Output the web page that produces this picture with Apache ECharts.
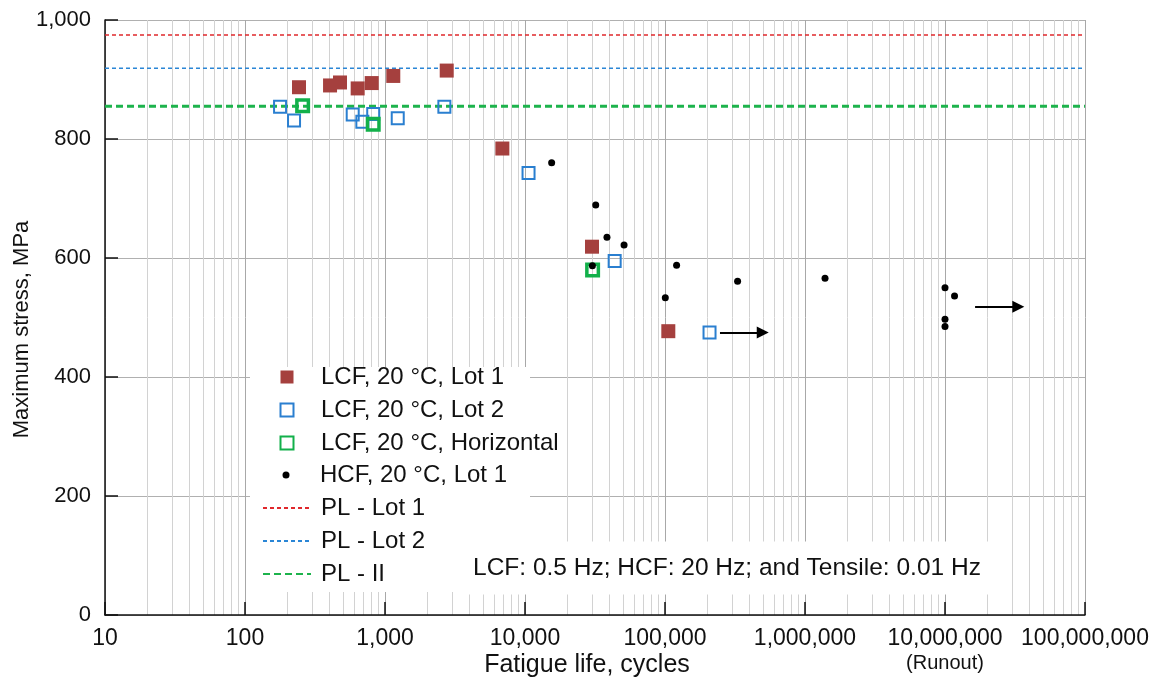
<!DOCTYPE html>
<html>
<head>
<meta charset="utf-8">
<script src="https://cdn.jsdelivr.net/npm/echarts@6/dist/echarts.min.js"></script>
<style>
html,body{margin:0;padding:0;background:#fff;}
#chart{width:1162px;height:685px;}
</style>
</head>
<body>
<div id="chart"></div>
<script>
// ---- data (cycles, MPa) ----
var lcfLot1 = [[243,887],[405,890],[477,895],[638,885],[804,894],[1146,906],[2760,915],[6890,784],[30100,619],[105600,477]];
var lcfLot2 = [[178,854],[224,831],[588,841],[689,829],[824,842],[1233,835],[2655,854],[10600,743],[43700,595],[208000,475]];
var lcfHoriz = [[258,856],[824,825],[30400,580]];
var hcfLot1 = [[15500,760],[32000,689],[38500,635],[51000,622],[30300,587],[121000,588],[100500,533],[330000,561],[1390000,566],[10000000,550],[11700000,536],[10000000,497],[10000000,485]];
var plLot1 = 975, plLot2 = 919, plII = 855;
// runout arrows: [startCycles, stress, endCycles]
var runoutArrows = [[247000,475,499000],[16400000,518,33400000]];
var xTicks = [10,100,1000,10000,100000,1000000,10000000,100000000];
var yTicks = [0,200,400,600,800,1000];
var names = ['LCF, 20 °C, Lot 1','LCF, 20 °C, Lot 2','LCF, 20 °C, Horizontal','HCF, 20 °C, Lot 1','PL - Lot 1','PL - Lot 2','PL - II'];
var noteText = 'LCF: 0.5 Hz; HCF: 20 Hz; and Tensile: 0.01 Hz';

var FONT = '"Liberation Sans", Arial, Helvetica, sans-serif';
var sq = 'path://M0,0L10,0L10,10L0,10Z';

// minor log grid lines (2..9 per decade)
var minorLines = [];
for (var d = xTicks[0]; d < xTicks[xTicks.length - 1]; d *= 10) {
  for (var k = 2; k <= 9; k++) minorLines.push({xAxis: d * k});
}
var arrowData = runoutArrows.map(function (a) {
  return [{coord: [a[0], a[1]]}, {coord: [a[2], a[1]]}];
});
function hLine(v) { return [[xTicks[0], v], [xTicks[xTicks.length - 1], v]]; }

var legendText = {fontSize: 24, color: '#111', fontFamily: FONT, lineHeight: 22, padding: [0, 0, 0, 5]};
var noSym = {color: 'rgba(0,0,0,0)', borderWidth: 0, opacity: 0};

var chart = echarts.init(document.getElementById('chart'), null, {renderer: 'canvas'});
var option = {
  animation: false,
  backgroundColor: '#fff',
  textStyle: {fontFamily: FONT},
  grid: {left: 105, right: 77, top: 20, bottom: 70, containLabel: false, outerBoundsMode: 'none'},
  xAxis: {
    type: 'log', logBase: 10, min: xTicks[0], max: xTicks[xTicks.length - 1],
    name: 'Fatigue life, cycles', nameLocation: 'middle', nameGap: 38, nameMoveOverlap: false,
    nameTextStyle: {fontSize: 25, color: '#111', fontFamily: FONT, padding: [0, 16, 0, 0]},
    axisLine: {show: true, lineStyle: {color: '#111', width: 1.5}},
    axisTick: {show: true, inside: true, length: 13, lineStyle: {color: '#111', width: 1.5}},
    axisLabel: {
      fontSize: 23, color: '#111', fontFamily: FONT, margin: 12,
      formatter: function (v) {
        var r = Math.round(v);
        var s = r.toLocaleString('en-US');
        if (r === 10000000) return s + '\n{r|(Runout)}';
        return s;
      },
      rich: {r: {fontSize: 20, color: '#111', fontFamily: FONT, lineHeight: 24, padding: [2, 0, 0, 0]}}
    },
    splitLine: {show: true, lineStyle: {color: '#a8a8a8', width: 1}},
    minorTick: {show: false}, minorSplitLine: {show: false}
  },
  yAxis: {
    type: 'value', min: yTicks[0], max: yTicks[yTicks.length - 1], interval: 200,
    name: 'Maximum stress, MPa', nameLocation: 'middle', nameGap: 72, nameRotate: 90, nameMoveOverlap: false,
    nameTextStyle: {fontSize: 22, color: '#111', fontFamily: FONT, padding: [0, 24, 0, 0]},
    axisLine: {show: true, lineStyle: {color: '#111', width: 1.5}},
    axisTick: {show: true, inside: true, length: 13, lineStyle: {color: '#111', width: 1.5}},
    axisLabel: {
      fontSize: 22, color: '#111', fontFamily: FONT, margin: 14,
      formatter: function (v) { return Math.round(v).toLocaleString('en-US'); }
    },
    splitLine: {show: true, lineStyle: {color: '#b0b0b0', width: 1}}
  },
  legend: [
    {
      data: names.slice(0, 3), orient: 'vertical', left: 279.5, top: 365, padding: 0,
      itemWidth: 48, itemHeight: 13, itemGap: 9, selectedMode: false, textStyle: legendText
    },
    {
      data: [names[3]], orient: 'vertical', left: 282.5, top: 463, padding: 0,
      itemWidth: 48, itemHeight: 7, selectedMode: false, textStyle: legendText
    },
    {
      data: names.slice(4).map(function (n) { return {name: n, itemStyle: noSym}; }),
      orient: 'vertical', left: 262, top: 496, padding: 0,
      itemWidth: 48, itemHeight: 13, itemGap: 9, selectedMode: false, textStyle: legendText
    }
  ],
  graphic: [
    {type: 'rect', z: 3, silent: true, shape: {x: 250, y: 367, width: 280, height: 225}, style: {fill: '#fff'}},
    {type: 'text', z: 5, silent: true, x: 469, y: 568,
      style: {text: noteText, fontSize: 24.5, fontFamily: FONT, fill: '#111', verticalAlign: 'middle',
        backgroundColor: '#fff', padding: [14, 8, 14, 4]}}
  ],
  series: [
    {
      name: '_minor', type: 'scatter', data: [], silent: true, z: 1,
      markLine: {silent: true, z: 0, symbol: ['none', 'none'], animation: false, label: {show: false},
        lineStyle: {color: '#d2d2d2', type: 'solid', width: 1}, emphasis: {disabled: true},
        data: minorLines}
    },
    {
      name: names[4], type: 'line', data: hLine(plLot1), symbol: 'none', z: 2, silent: true,
      lineStyle: {color: '#e0282c', width: 1.5, type: [4, 3]}, itemStyle: noSym
    },
    {
      name: names[5], type: 'line', data: hLine(plLot2), symbol: 'none', z: 2, silent: true,
      lineStyle: {color: '#2a86d6', width: 1.5, type: [4, 3]}, itemStyle: noSym
    },
    {
      name: names[6], type: 'line', data: hLine(plII), symbol: 'none', z: 2, silent: true,
      lineStyle: {color: '#1db34c', width: 3, type: [7, 4]}, itemStyle: noSym
    },
    {
      name: names[0], type: 'scatter', data: lcfLot1, symbol: sq, symbolSize: 14, symbolKeepAspect: true, z: 3,
      itemStyle: {color: '#a5403e', opacity: 1}
    },
    {
      name: names[1], type: 'scatter', data: lcfLot2, symbol: sq, symbolSize: 12, symbolKeepAspect: true, z: 3,
      itemStyle: {color: 'rgba(255,255,255,0)', borderColor: '#2a7fd0', borderWidth: 2, opacity: 1}
    },
    {
      name: names[2], type: 'scatter', data: lcfHoriz, symbol: sq, symbolSize: 11.5, symbolKeepAspect: true, z: 3,
      itemStyle: {color: 'rgba(255,255,255,0)', borderColor: '#12b04a', borderWidth: 3.5, opacity: 1}
    },
    {
      name: names[3], type: 'scatter', data: hcfLot1, symbol: 'circle', symbolSize: 7, z: 4,
      itemStyle: {color: '#000', opacity: 1},
      markLine: {silent: true, symbol: ['none', 'triangle'], symbolSize: 12, animation: false,
        label: {show: false}, emphasis: {disabled: true},
        lineStyle: {color: '#000', type: 'solid', width: 1.8},
        data: arrowData}
    }
  ]
};
chart.setOption(option);
</script>
</body>
</html>
